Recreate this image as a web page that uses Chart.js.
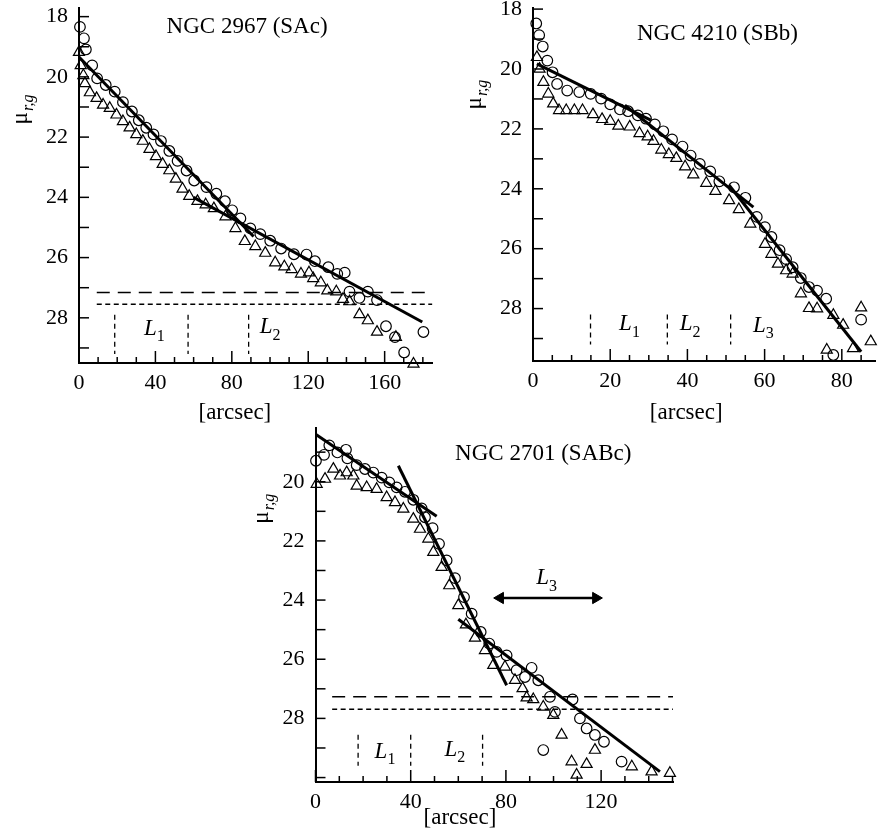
<!DOCTYPE html>
<html>
<head>
<meta charset="utf-8">
<script src="https://cdn.jsdelivr.net/npm/chart.js@4.4.0/dist/chart.umd.min.js"></script>
<style>
  body { margin: 0; background: #fff; }
  #fig { position: relative; width: 883px; height: 832px; overflow: hidden; }
  canvas { position: absolute; }
</style>
</head>
<body>
<div id="fig">
  <canvas id="g1"></canvas>
  <canvas id="g2"></canvas>
  <canvas id="g3"></canvas>
</div>
<script>
const FONTE = 'Liberation Serif';

// NGC 2967 (SAc)
const p1CircX = [0.5, 2.6, 3.6, 6.9, 9.5, 14.0, 18.7, 23.0, 27.7, 31.3, 35.2, 39.0, 42.9, 47.3, 51.6, 56.3, 60.3, 66.7, 71.9, 76.4, 80.2, 84.5, 89.7, 94.9, 100.1, 105.8, 112.5, 119.1, 123.5, 130.5, 135.2, 139.1, 141.6, 146.8, 151.2, 156.0, 160.7, 165.4, 170.2, 180.3];
const p1CircY = [18.34, 18.72, 19.09, 19.62, 20.05, 20.27, 20.49, 20.84, 21.15, 21.44, 21.69, 21.91, 22.13, 22.46, 22.79, 23.11, 23.44, 23.66, 23.88, 24.13, 24.43, 24.70, 25.03, 25.22, 25.44, 25.70, 25.89, 25.90, 26.12, 26.32, 26.54, 26.50, 27.13, 27.34, 27.13, 27.41, 28.28, 28.64, 29.15, 28.47];
const p1TriX = [0.0, 0.9, 2.3, 3.1, 5.7, 9.2, 12.6, 16.1, 19.6, 23.0, 26.5, 30.0, 33.4, 36.9, 40.3, 43.8, 47.3, 50.7, 54.2, 57.7, 62.0, 66.3, 70.6, 76.7, 81.9, 86.8, 92.3, 97.5, 102.7, 107.5, 111.3, 116.2, 120.4, 122.6, 126.6, 130.0, 134.7, 138.2, 141.6, 146.8, 151.2, 156.0, 165.9, 175.1];
const p1TriY = [19.18, 19.62, 19.95, 20.22, 20.52, 20.71, 20.93, 21.04, 21.26, 21.48, 21.69, 21.91, 22.13, 22.40, 22.64, 22.90, 23.11, 23.39, 23.72, 23.96, 24.13, 24.24, 24.37, 24.64, 25.03, 25.46, 25.63, 25.85, 26.17, 26.30, 26.39, 26.54, 26.50, 26.69, 26.83, 27.10, 27.13, 27.38, 27.46, 27.89, 28.09, 28.47, 28.64, 29.53];
const p1AjusteX = [[0, 91.4], [60, 179.7]];
const p1AjusteY = [[19.34, 25.30], [24.00, 28.14]];
const p1Limites = [27.16, 27.55];
const p1Marcas = [18.7, 57.1, 88.8];

// NGC 4210 (SBb)
const p2CircX = [0.84, 1.60, 2.53, 3.71, 5.06, 6.24, 8.86, 11.98, 14.94, 17.64, 20.0, 22.53, 24.64, 27.17, 29.28, 31.56, 33.76, 36.03, 38.73, 40.84, 43.21, 45.91, 48.27, 52.07, 55.02, 57.97, 60.08, 61.77, 63.88, 65.57, 67.26, 69.37, 71.48, 73.59, 75.95, 77.8, 85.0];
const p2CircY = [18.48, 18.87, 19.25, 19.72, 20.11, 20.50, 20.72, 20.77, 20.83, 20.99, 21.18, 21.35, 21.41, 21.55, 21.66, 21.85, 22.08, 22.35, 22.59, 22.89, 23.17, 23.42, 23.75, 23.95, 24.30, 24.94, 25.28, 25.61, 26.05, 26.35, 26.62, 26.98, 27.28, 27.40, 27.67, 29.55, 28.37];
const p2TriX = [1.01, 1.69, 2.70, 3.97, 5.23, 6.75, 8.61, 10.72, 12.83, 15.53, 17.89, 20.0, 22.11, 25.06, 27.59, 29.70, 31.22, 33.25, 35.19, 37.13, 39.41, 41.52, 44.89, 47.26, 50.80, 53.33, 56.29, 60.1, 61.77, 63.46, 65.57, 67.26, 69.4, 71.5, 73.6, 76.1, 77.81, 80.34, 82.9, 85.0, 87.5];
const p2TriY = [19.61, 20.0, 20.44, 20.83, 21.16, 21.38, 21.38, 21.38, 21.38, 21.52, 21.68, 21.74, 21.90, 21.93, 22.15, 22.26, 22.41, 22.70, 22.85, 22.98, 23.26, 23.53, 23.81, 24.08, 24.39, 24.69, 25.17, 25.85, 26.18, 26.51, 26.73, 26.84, 27.50, 27.99, 28.00, 29.38, 28.22, 28.55, 29.33, 27.97, 29.10];
const p2AjusteX = [[1.0, 30.5], [23.8, 57.1], [50.8, 85.0]];
const p2AjusteY = [[19.83, 21.71], [21.21, 24.61], [23.88, 29.44]];
const p2Marcas = [14.9, 34.8, 51.2];

// NGC 2701 (SABc)
const p3CircX = [0.2, 3.6, 5.8, 9.2, 12.8, 13.4, 17.3, 20.8, 24.3, 27.8, 31.0, 34.1, 37.6, 41.1, 44.6, 46.0, 49.2, 51.9, 55.1, 58.6, 62.4, 65.6, 69.4, 73.0, 76.1, 80.3, 84.5, 88.0, 90.8, 93.6, 95.7, 98.5, 100.6, 108.0, 111.1, 113.9, 117.4, 121.2, 128.6];
const p3CircY = [19.29, 19.09, 18.77, 19.01, 18.92, 19.21, 19.44, 19.57, 19.69, 19.86, 20.02, 20.19, 20.34, 20.61, 20.90, 21.20, 21.57, 22.10, 22.66, 23.26, 23.90, 24.46, 25.08, 25.47, 25.75, 25.87, 26.37, 26.60, 26.29, 26.71, 29.07, 27.27, 27.78, 27.36, 28.00, 28.34, 28.56, 28.79, 29.46];
const p3TriX = [0.5, 4.0, 7.5, 10.3, 13.1, 15.9, 17.3, 21.5, 25.7, 29.9, 33.4, 36.9, 41.1, 43.9, 47.4, 49.5, 53.0, 56.2, 60.0, 63.2, 67.0, 71.2, 74.7, 79.6, 83.8, 87.0, 88.7, 91.5, 95.7, 99.9, 103.4, 107.6, 109.7, 113.9, 117.4, 132.9, 141.2, 148.9];
const p3TriY = [20.08, 19.91, 19.57, 19.80, 19.69, 19.80, 20.14, 20.19, 20.25, 20.53, 20.70, 20.92, 21.26, 21.60, 21.93, 22.38, 22.89, 23.51, 24.18, 24.83, 25.28, 25.70, 26.20, 26.26, 26.71, 26.99, 27.30, 27.36, 27.61, 27.89, 28.56, 29.46, 29.91, 29.55, 29.07, 29.63, 29.80, 29.85];
const p3AjusteX = [[0.2, 50.9], [34.8, 80.3], [60.0, 144.7]];
const p3AjusteY = [[18.40, 21.17], [19.46, 26.88], [24.65, 29.80]];
const p3Limites = [27.27, 27.69];
const p3Marcas = [17.9, 40.0, 70.2];
const p3SetaX = [77.6, 117.8];
const p3SetaY = [23.93, 23.93];

// rotulos dos eixos
const xRotulos1 = [0, 40, 80, 120, 160];
const xRotulos2 = [0, 20, 40, 60, 80];
const xRotulos3 = [0, 40, 80, 120];
const yRotulos12 = [18, 20, 22, 24, 26, 28];
const yRotulos3 = [20, 22, 24, 26, 28];

function pares(xs, ys) {
    return xs.map((x, i) => ({ x: x, y: ys[i] }));
}

function temRotulo(lista, v) {
    return lista.some(r => Math.abs(r - v) < 1e-6);
}

function textoSub(ctx, base, sub, x, y, tam, italicoBase, italicoSub) {
    // y = linha de base
    const fb = (italicoBase ? 'italic ' : '') + tam + 'px "' + FONTE + '"';
    const ts = Math.round(tam * 0.68);
    const fs = (italicoSub ? 'italic ' : '') + ts + 'px "' + FONTE + '"';
    ctx.font = fb;
    const wb = ctx.measureText(base).width;
    ctx.font = fs;
    const ws = ctx.measureText(sub).width;
    const x0 = x - (wb + ws) / 2;
    ctx.textAlign = 'left';
    ctx.textBaseline = 'alphabetic';
    ctx.font = fb;
    ctx.fillText(base, x0, y);
    ctx.font = fs;
    ctx.fillText(sub, x0 + wb + (italicoBase ? 0 : 1), y + tam * 0.28);
}

const extras = {
    id: 'extras',
    afterDraw(chart) {
        const o = chart.options.plugins.extras;
        const ctx = chart.ctx;
        const sx = chart.scales.x, sy = chart.scales.y;
        const area = chart.chartArea;
        ctx.save();
        ctx.strokeStyle = '#000';
        ctx.fillStyle = '#000';
        ctx.lineWidth = 1.5;
        // marcas dos eixos para dentro
        sx.ticks.forEach(t => {
            const px = sx.getPixelForValue(t.value);
            const comp = temRotulo(o.xRotulos, t.value) ? 12 : 6;
            ctx.beginPath(); ctx.moveTo(px, area.bottom); ctx.lineTo(px, area.bottom - comp); ctx.stroke();
        });
        sy.ticks.forEach(t => {
            const py = sy.getPixelForValue(t.value);
            ctx.beginPath(); ctx.moveTo(area.left, py); ctx.lineTo(area.left + 10, py); ctx.stroke();
        });
        // titulo
        ctx.font = '23px "' + FONTE + '"';
        ctx.textAlign = 'center';
        ctx.textBaseline = 'middle';
        ctx.fillText(o.titulo.t, sx.getPixelForValue(o.titulo.x), sy.getPixelForValue(o.titulo.y));
        // [arcsec]
        ctx.fillText('[arcsec]', sx.getPixelForValue(o.eixoX.x), area.bottom + o.eixoX.dy);
        // L1, L2, L3
        o.rotulosL.forEach(r => {
            textoSub(ctx, 'L', r.n, sx.getPixelForValue(r.x), sy.getPixelForValue(r.y) + 8, 23, true, false);
        });
        // mu r,g
        ctx.translate(area.left + o.eixoY.dx, sy.getPixelForValue(o.eixoY.y));
        ctx.rotate(-Math.PI / 2);
        textoSub(ctx, '\u03bc', 'r,g', 0, 0, 23, false, true);
        ctx.restore();
    }
};

function montar(id, p) {
    const cv = document.getElementById(id);
    const [cl, ct, cw, ch] = p.caixa;
    const [al, at, ar, ab] = p.area;
    cv.style.left = cl + 'px';
    cv.style.top = ct + 'px';
    cv.width = cw;
    cv.height = ch;
    const larguraY = al - cl;
    const alturaX = ct + ch - ab;

    const datasets = [];
    p.ajusteX.forEach((xs, i) => datasets.push({
        data: pares(xs, p.ajusteY[i]), showLine: true, borderColor: '#000',
        borderWidth: 3, pointRadius: 0, clip: false
    }));
    if (p.setaX) {
        datasets.push({
            data: pares(p.setaX, p.setaY), showLine: true, borderColor: '#000', borderWidth: 2.5,
            pointStyle: 'triangle', pointRadius: 6.5, backgroundColor: '#000', pointBorderWidth: 1,
            pointRotation: c => (c.dataIndex === 0 ? 270 : 90), clip: false
        });
    }
    (p.limites || []).forEach((v, i) => datasets.push({
        data: [{ x: p.limIni, y: v }, { x: p.xMax, y: v }], showLine: true, borderColor: '#000',
        borderWidth: 1.5, borderDash: i === 0 ? [13, 8] : [5, 3.5], pointRadius: 0
    }));
    p.marcas.forEach(v => datasets.push({
        data: [{ x: v, y: p.marcaY[0] }, { x: v, y: p.marcaY[1] }], showLine: true, borderColor: '#000',
        borderWidth: 1.3, borderDash: [5, 4], pointRadius: 0
    }));
    datasets.push({
        data: pares(p.circX, p.circY), pointStyle: 'circle', pointRadius: 5.3,
        borderColor: '#000', pointBorderWidth: 1.2, backgroundColor: 'rgba(0,0,0,0)', clip: false
    });
    datasets.push({
        data: pares(p.triX, p.triY), pointStyle: 'triangle', pointRadius: 6.4,
        borderColor: '#000', pointBorderWidth: 1.2, backgroundColor: 'rgba(0,0,0,0)', clip: false
    });

    const fonteTick = { family: '"Liberation Serif", serif', size: 22 };
    new Chart(cv, {
        type: 'scatter',
        data: { datasets: datasets },
        options: {
            responsive: false,
            animation: false,
            events: [],
            layout: { padding: { left: 0, top: at - ct, right: cl + cw - ar, bottom: 0 } },
            plugins: {
                legend: { display: false },
                tooltip: { enabled: false },
                extras: Object.assign({ xRotulos: p.xRotulos }, p.extras)
            },
            scales: {
                x: {
                    type: 'linear', min: 0, max: p.xMax,
                    border: { display: true, width: 2, color: '#000' },
                    grid: { display: false, drawTicks: false },
                    ticks: {
                        stepSize: p.xPasso, autoSkip: false, maxRotation: 0, includeBounds: false,
                        padding: 7, color: '#000', font: fonteTick,
                        callback: v => (temRotulo(p.xRotulos, v) ? v : '')
                    },
                    afterFit: s => { s.height = alturaX; s.paddingLeft = 0; s.paddingRight = 0; }
                },
                y: {
                    type: 'linear', reverse: true, min: p.yMin, max: p.yMax,
                    border: { display: true, width: 2, color: '#000' },
                    grid: { display: false, drawTicks: false },
                    ticks: {
                        stepSize: 1, autoSkip: false, includeBounds: false,
                        padding: 11, color: '#000', font: fonteTick,
                        callback: v => (temRotulo(p.yRotulos, v) ? v : '')
                    },
                    afterFit: s => { s.width = larguraY; s.paddingTop = 0; s.paddingBottom = 0; }
                }
            }
        },
        plugins: [extras]
    });
}

montar('g1', {
    caixa: [0, 0, 440, 425], area: [79, 5, 435, 363],
    xMax: 185, xPasso: 10, xRotulos: xRotulos1, yMin: 17.7, yMax: 29.5, yRotulos: yRotulos12,
    circX: p1CircX, circY: p1CircY, triX: p1TriX, triY: p1TriY,
    ajusteX: p1AjusteX, ajusteY: p1AjusteY,
    limites: p1Limites, limIni: 9.3, marcas: p1Marcas, marcaY: [27.9, 29.2],
    extras: {
        titulo: { t: 'NGC 2967 (SAc)', x: 88, y: 18.35 },
        eixoX: { x: 81.6, dy: 50 },
        eixoY: { dx: -52, y: 21.1 },
        rotulosL: [{ n: '1', x: 39.5, y: 28.3 }, { n: '2', x: 100, y: 28.25 }]
    }
});

montar('g2', {
    caixa: [445, 0, 438, 425], area: [533, 5, 883, 361],
    xMax: 88.7, xPasso: 5, xRotulos: xRotulos2, yMin: 17.95, yMax: 29.75, yRotulos: yRotulos12,
    circX: p2CircX, circY: p2CircY, triX: p2TriX, triY: p2TriY,
    ajusteX: p2AjusteX, ajusteY: p2AjusteY,
    marcas: p2Marcas, marcaY: [28.2, 29.2],
    extras: {
        titulo: { t: 'NGC 4210 (SBb)', x: 47.8, y: 18.84 },
        eixoX: { x: 39.7, dy: 52 },
        eixoY: { dx: -52, y: 20.87 },
        rotulosL: [{ n: '1', x: 25, y: 28.45 }, { n: '2', x: 40.7, y: 28.45 }, { n: '3', x: 59.7, y: 28.5 }]
    }
});

montar('g3', {
    caixa: [230, 420, 453, 412], area: [315.5, 425, 673, 782],
    xMax: 150.2, xPasso: 10, xRotulos: xRotulos3, yMin: 18.17, yMax: 30.15, yRotulos: yRotulos3,
    circX: p3CircX, circY: p3CircY, triX: p3TriX, triY: p3TriY,
    ajusteX: p3AjusteX, ajusteY: p3AjusteY,
    limites: p3Limites, limIni: 7, marcas: p3Marcas, marcaY: [28.55, 29.6],
    setaX: p3SetaX, setaY: p3SetaY,
    extras: {
        titulo: { t: 'NGC 2701 (SABc)', x: 95.7, y: 19.07 },
        eixoX: { x: 60.7, dy: 36 },
        eixoY: { dx: -48, y: 20.93 },
        rotulosL: [{ n: '1', x: 29.2, y: 29.07 }, { n: '2', x: 58.6, y: 29.0 }, { n: '3', x: 97.1, y: 23.2 }]
    }
});
</script>
</body>
</html>
